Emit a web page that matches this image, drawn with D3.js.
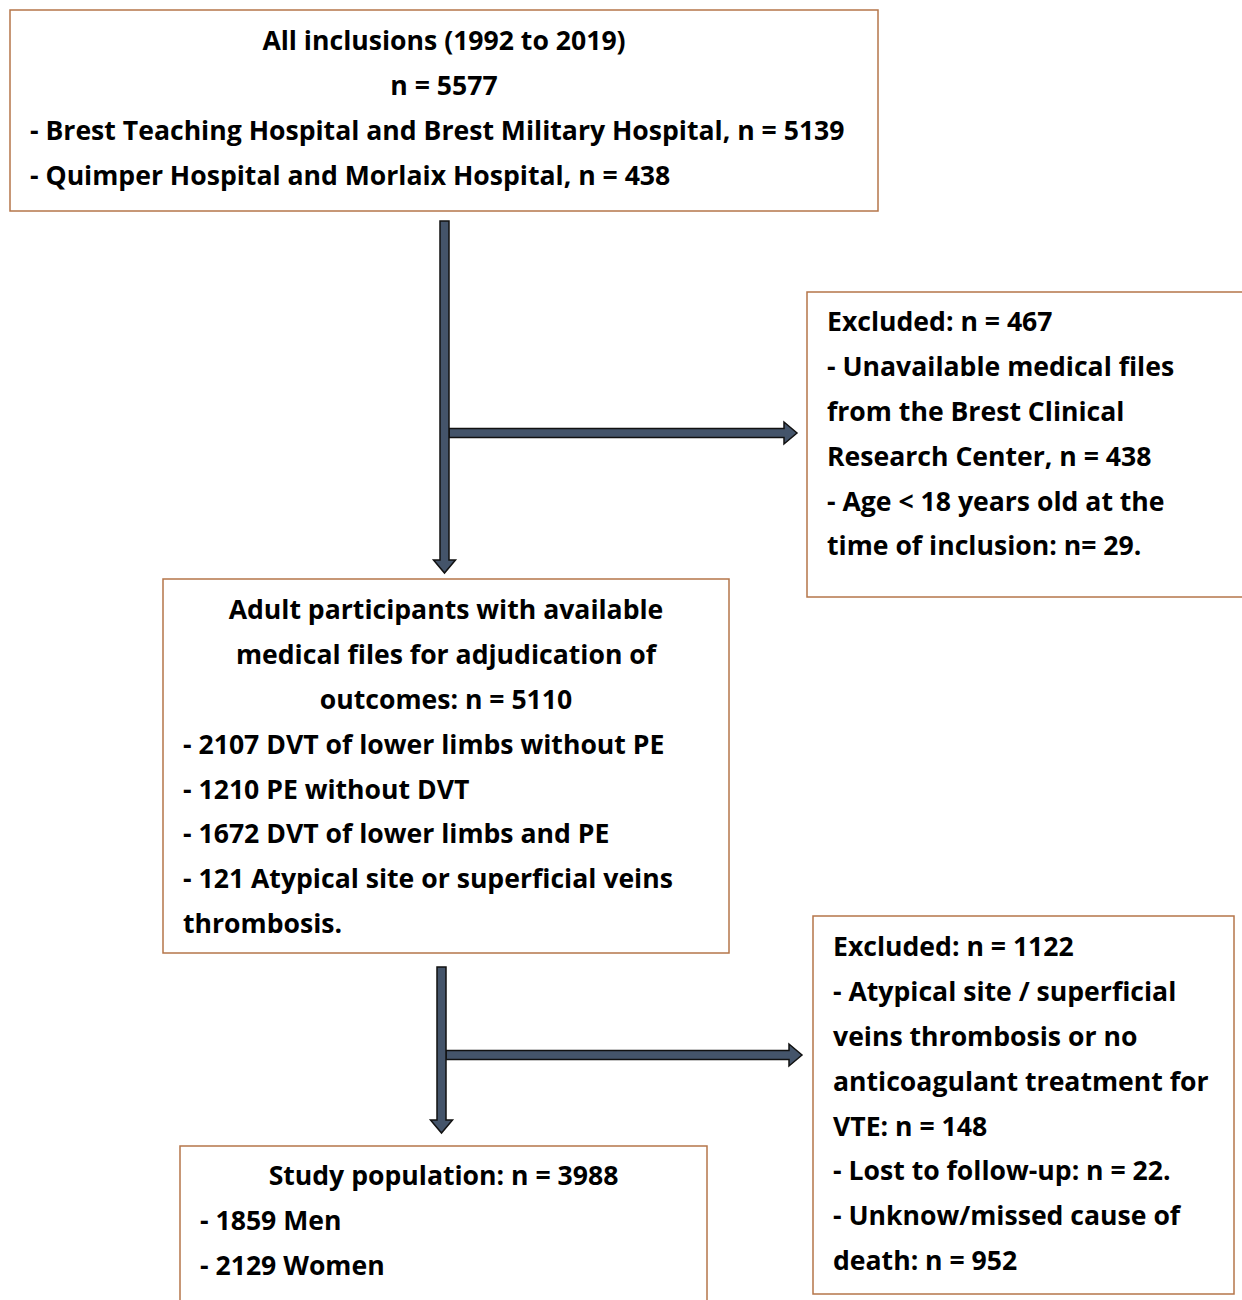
<!DOCTYPE html>
<html>
<head>
<meta charset="utf-8">
<script src="https://cdn.jsdelivr.net/npm/d3@7"></script>
<style>
  body { margin: 0; background: #fff; }
  text { font-family: "Open Sans", sans-serif; font-weight: 700; fill: #000; }
</style>
</head>
<body>
<script>
// flowchart text, one array per box
const inclusionLines = [
  "All inclusions (1992 to 2019)",
  "n = 5577",
  "- Brest Teaching Hospital and Brest Military Hospital, n = 5139",
  "- Quimper Hospital and Morlaix Hospital, n = 438"
];
const excluded1Lines = [
  "Excluded: n = 467",
  "- Unavailable medical files",
  "from the Brest Clinical",
  "Research Center, n = 438",
  "- Age < 18 years old at the",
  "time of inclusion: n= 29."
];
const adultLines = [
  "Adult participants with available",
  "medical files for adjudication of",
  "outcomes: n = 5110",
  "- 2107 DVT of lower limbs without PE",
  "- 1210 PE without DVT",
  "- 1672 DVT of lower limbs and PE",
  "- 121 Atypical site or superficial veins",
  "thrombosis."
];
const excluded2Lines = [
  "Excluded: n = 1122",
  "- Atypical site / superficial",
  "veins thrombosis or no",
  "anticoagulant treatment for",
  "VTE: n = 148",
  "- Lost to follow-up: n = 22.",
  "- Unknow/missed cause of",
  "death: n = 952"
];
const studyLines = [
  "Study population: n = 3988",
  "- 1859 Men",
  "- 2129 Women"
];

const width = 1242, height = 1300;
const lineH = 44.8, fontSize = 26.6;
const border = "#b5764a", arrowFill = "#44546a";

const svg = d3.select("body").append("svg")
  .attr("width", width).attr("height", height);

// box layout: x, y, w, h, first line y, text x, how many lines are centered
const boxes = [
  { lines: inclusionLines, x: 10, y: 10, w: 868, h: 201, ty: 41, tx: 30, centered: 2 },
  { lines: excluded1Lines, x: 807, y: 292, w: 440, h: 305, ty: 322, tx: 827, centered: 0 },
  { lines: adultLines, x: 163, y: 579, w: 566, h: 374, ty: 610, tx: 183, centered: 3 },
  { lines: excluded2Lines, x: 813, y: 916, w: 421, h: 378, ty: 947, tx: 833, centered: 0 },
  { lines: studyLines, x: 180, y: 1146, w: 527, h: 170, ty: 1176, tx: 200, centered: 1 }
];

boxes.forEach(b => {
  const g = svg.append("g");
  g.append("rect")
    .attr("x", b.x).attr("y", b.y)
    .attr("width", b.w).attr("height", b.h)
    .attr("fill", "#fff")
    .attr("stroke", border)
    .attr("stroke-width", 1.5);
  g.selectAll("text")
    .data(b.lines)
    .join("text")
    .attr("x", (d, i) => i < b.centered ? b.x + b.w / 2 : b.tx)
    .attr("y", (d, i) => b.ty + i * lineH)
    .attr("dy", "0.35em")
    .attr("text-anchor", (d, i) => i < b.centered ? "middle" : "start")
    .style("font-size", fontSize + "px")
    .text(d => d);
});

// block arrows
const shaft = 9, headW = 22, headL = 13;

function downArrow(cx, y0, y1) {
  const s = shaft / 2, h = headW / 2;
  return `M${cx - s},${y0} L${cx + s},${y0} L${cx + s},${y1 - headL} L${cx + h},${y1 - headL}
    L${cx},${y1} L${cx - h},${y1 - headL} L${cx - s},${y1 - headL} Z`;
}
function rightArrow(x0, x1, cy) {
  const s = shaft / 2, h = headW / 2;
  return `M${x0},${cy - s} L${x1 - headL},${cy - s} L${x1 - headL},${cy - h} L${x1},${cy}
    L${x1 - headL},${cy + h} L${x1 - headL},${cy + s} L${x0},${cy + s} Z`;
}

const arrows = [
  rightArrow(449, 797, 433),
  downArrow(444.5, 221, 573),
  rightArrow(446, 802, 1055),
  downArrow(441.5, 967, 1133)
];

svg.selectAll("path.arrow")
  .data(arrows)
  .join("path")
  .attr("class", "arrow")
  .attr("d", d => d)
  .attr("fill", arrowFill)
  .attr("stroke", "#111")
  .attr("stroke-width", 1.5)
  .attr("stroke-linejoin", "miter");
</script>
</body>
</html>
